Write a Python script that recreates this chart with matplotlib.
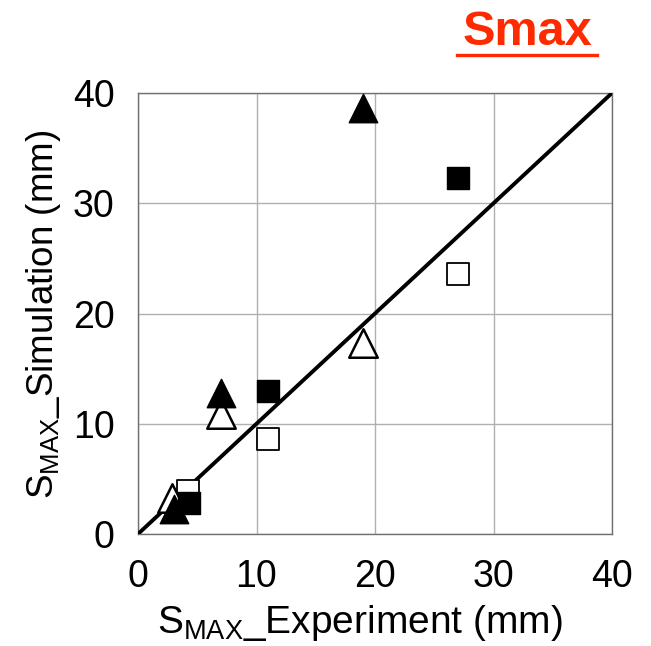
#!/usr/bin/env python3
# Smax: simulation vs experiment scatter

import numpy as np
import matplotlib
matplotlib.use('Agg')
import matplotlib.pyplot as plt
from matplotlib.lines import Line2D

plt.rcParams['font.family'] = ['Liberation Sans', 'DejaVu Sans']
plt.rcParams['mathtext.fontset'] = 'custom'
plt.rcParams['mathtext.rm'] = 'Liberation Sans'

# data (mm)
tri_filled_x = [3.0, 7.0, 19.0]
tri_filled_y = [2.3, 12.8, 38.6]
tri_open_x = [2.9, 7.0, 19.0]
tri_open_y = [3.3, 10.9, 17.3]
sq_filled_x = [4.3, 11.0, 27.0]
sq_filled_y = [2.8, 13.0, 32.3]
sq_open_x = [4.2, 11.0, 27.0]
sq_open_y = [3.9, 8.6, 23.6]
ident = [0, 40]
ticks = [0, 10, 20, 30, 40]

fig = plt.figure(figsize=(6.51, 6.46), dpi=100)
ax = fig.add_axes([138/651, 1 - 534/646, 474/651, 441/646])

ax.plot(ident, ident, color='k', lw=2.8, zorder=3)

ax.scatter(sq_open_x, sq_open_y, marker='s', s=230, facecolor='white',
           edgecolor='k', linewidth=1.3, zorder=4)
ax.scatter(tri_open_x, tri_open_y, marker='^', s=420, facecolor='white',
           edgecolor='k', linewidth=1.8, zorder=4)
ax.scatter(sq_filled_x, sq_filled_y, marker='s', s=230, facecolor='k',
           edgecolor='k', zorder=5)
ax.scatter(tri_filled_x, tri_filled_y, marker='^', s=420, facecolor='k',
           edgecolor='k', zorder=5)

ax.set_xlim(0, 40)
ax.set_ylim(0, 40)
ax.set_xticks(ticks)
ax.set_yticks(ticks)
ax.grid(True, color='#b0b0b0', lw=1.0)
ax.set_axisbelow(True)
for sp in ax.spines.values():
    sp.set_color('#707070')
    sp.set_linewidth(1.0)
ax.tick_params(length=0, labelsize=27)
ax.tick_params(axis='x', pad=18)
ax.tick_params(axis='y', pad=17)

ax.set_xlabel(r'S$_\mathregular{MAX}$_Experiment (mm)', fontsize=28, labelpad=0)
ax.set_ylabel(r'S$_\mathregular{MAX}$_Simulation (mm)', fontsize=26.5, labelpad=0)
ax.xaxis.set_label_coords(360/651, 1 - 643/646, transform=fig.transFigure)
ax.yaxis.set_label_coords(24/651, 1 - 314/646, transform=fig.transFigure)
ax.xaxis.label.set_va('bottom')
ax.yaxis.label.set_va('top')

# underlined red title
fig.text(527/651, 1 - 45/646, 'Smax', color='#ff2a00', fontsize=35,
         fontweight='bold', ha='center', va='baseline')
fig.add_artist(Line2D([457/651, 597/651], [1 - 55/646, 1 - 55/646],
                      color='#ff2a00', lw=2.4, transform=fig.transFigure))

fig.savefig('out.png', dpi=100, facecolor='w')
plt.close()
